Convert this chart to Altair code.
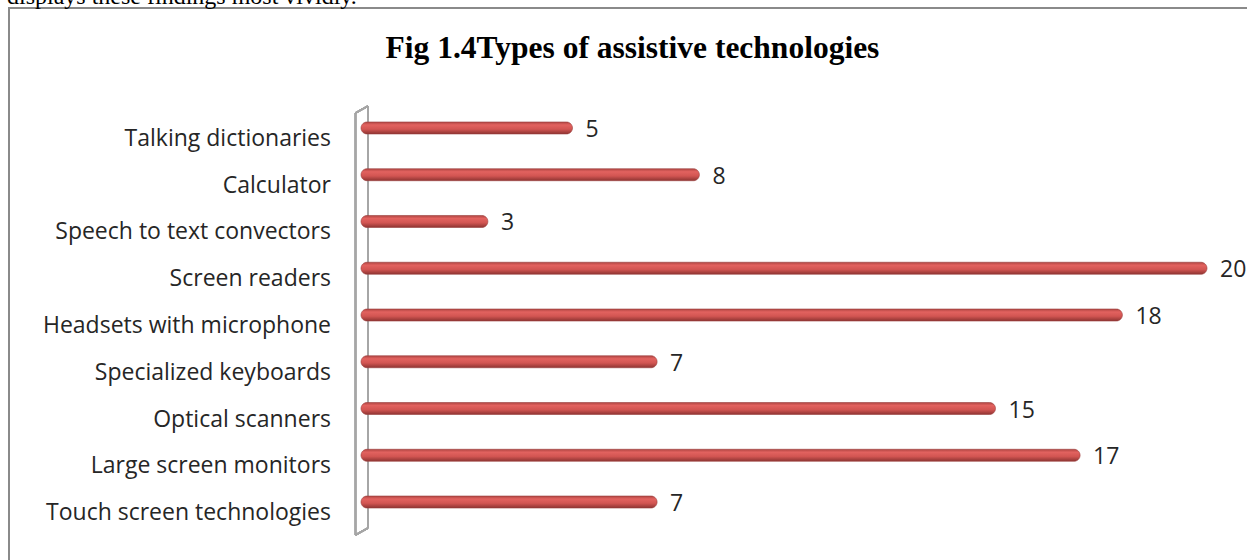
import altair as alt
import pandas as pd

categories = [
    "Talking dictionaries",
    "Calculator",
    "Speech to text convectors",
    "Screen readers",
    "Headsets with microphone",
    "Specialized keyboards",
    "Optical scanners",
    "Large screen monitors",
    "Touch screen technologies",
]
values = [5, 8, 3, 20, 18, 7, 15, 17, 7]

title_text = "Fig 1.4Types of assistive technologies"
above_text = "displays these findings most vividly."

df = pd.DataFrame({"cat": categories, "val": values})

W, H = 1247, 560
xscale = alt.Scale(domain=[0, 20], range=[361, 1207])
yscale = alt.Scale(domain=categories, range=[104.6, 525.4], paddingInner=0, paddingOuter=0)

base = alt.Chart(df)

grad = alt.Gradient(
    gradient="linear",
    stops=[
        alt.GradientStop(color="#b04542", offset=0),
        alt.GradientStop(color="#e2625f", offset=0.25),
        alt.GradientStop(color="#d25552", offset=0.6),
        alt.GradientStop(color="#8e3432", offset=1),
    ],
    x1=0, x2=0, y1=0, y2=1,
)

frame_top = alt.Chart(df).mark_rule(color="#8a8a8a", strokeWidth=2).encode(
    x=alt.value(8), x2=alt.value(1260), y=alt.value(8)
)
frame_left = alt.Chart(df).mark_rule(color="#8a8a8a", strokeWidth=2).encode(
    x=alt.value(9), y=alt.value(8), y2=alt.value(600)
)

wall_col = "#a6a6a6"
wall = [
    alt.Chart(df).mark_rule(color=wall_col, strokeWidth=1.5).encode(
        x=alt.value(355.5), y=alt.value(113), y2=alt.value(535)),
    alt.Chart(df).mark_rule(color=wall_col, strokeWidth=1.5).encode(
        x=alt.value(368), y=alt.value(106), y2=alt.value(528)),
    alt.Chart(df).mark_rule(color=wall_col, strokeWidth=1.5).encode(
        x=alt.value(355.5), x2=alt.value(368), y=alt.value(113), y2=alt.value(106)),
    alt.Chart(df).mark_rule(color=wall_col, strokeWidth=1.5).encode(
        x=alt.value(355.5), x2=alt.value(368), y=alt.value(535), y2=alt.value(528)),
]

bars = base.mark_bar(height=12, cornerRadius=6, color=grad, stroke="#9a3e3c", strokeWidth=0.6).encode(
    x=alt.X("val:Q", scale=xscale, axis=None),
    x2=alt.datum(0),
    y=alt.Y("cat:N", scale=yscale, axis=None, sort=categories),
)

LABEL_FONT = "Open Sans"
LABEL_SIZE = 23

cat_labels = base.mark_text(align="right", baseline="middle", dy=11, font=LABEL_FONT, fontSize=LABEL_SIZE, color="#262626").encode(
    x=alt.value(331),
    y=alt.Y("cat:N", scale=yscale, axis=None, sort=categories),
    text="cat:N",
)

val_labels = base.mark_text(align="left", baseline="middle", dx=13, dy=2, font=LABEL_FONT, fontSize=LABEL_SIZE, color="#262626").encode(
    x=alt.X("val:Q", scale=xscale, axis=None),
    y=alt.Y("cat:N", scale=yscale, axis=None, sort=categories),
    text="val:Q",
)

title = alt.Chart(pd.DataFrame({"t": [title_text]})).mark_text(
    align="center", baseline="alphabetic", font="Liberation Serif", fontSize=31.5, fontWeight="bold", color="#000000"
).encode(x=alt.value(632.5), y=alt.value(58), text="t:N")

above = alt.Chart(pd.DataFrame({"t": [above_text]})).mark_text(
    align="left", baseline="alphabetic", font="Liberation Serif", fontSize=24, color="#000000"
).encode(x=alt.value(7), y=alt.value(4), text="t:N")

chart = alt.layer(frame_top, frame_left, *wall, bars, cat_labels, val_labels, title, above).properties(
    width=W, height=H,
    autosize=alt.AutoSizeParams(type="none"),
    padding=0,
    background="white",
).configure_view(stroke=None)

chart.save("out.html", embed_options={"renderer": "svg", "actions": False})
